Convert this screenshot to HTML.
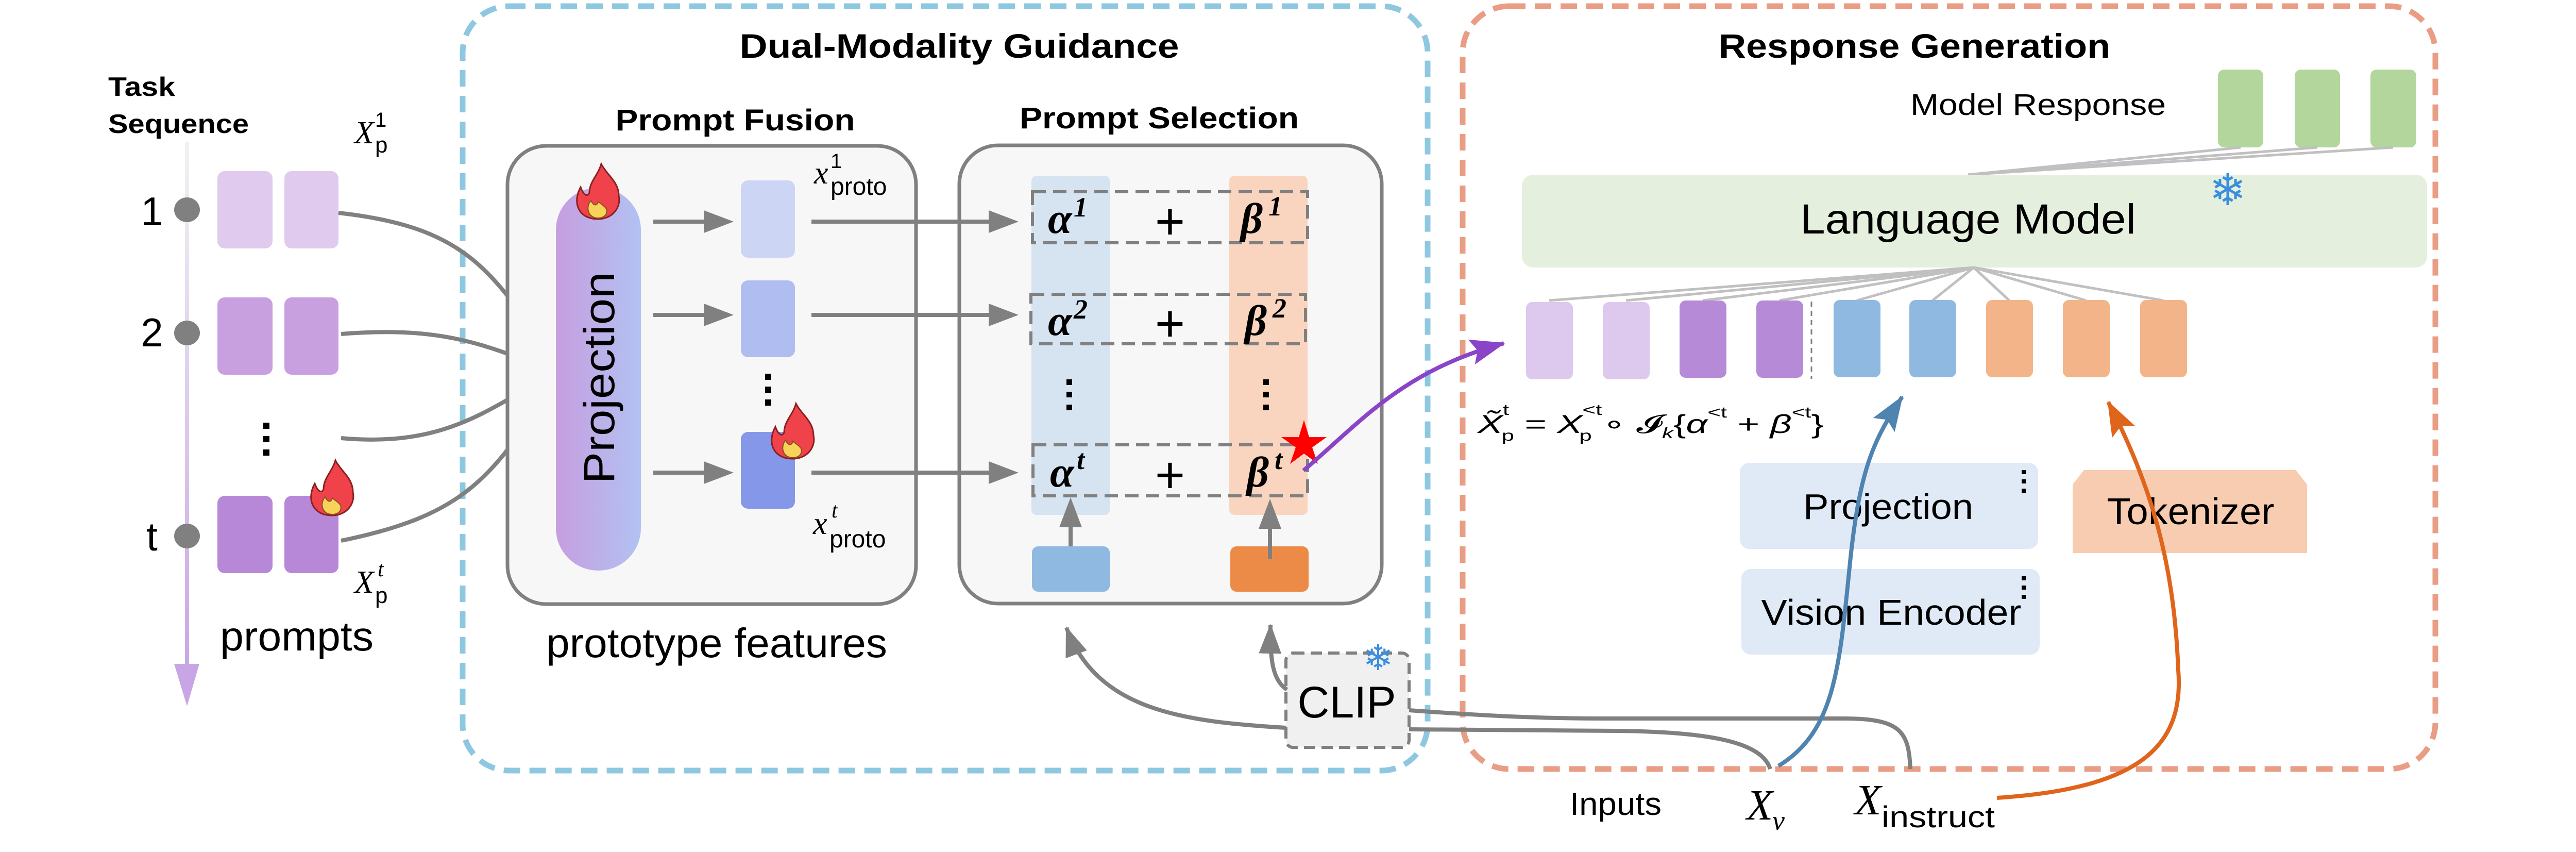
<!DOCTYPE html>
<html><head><meta charset="utf-8"><style>
html,body{margin:0;padding:0;background:#fff}
svg{display:block}
text{font-family:"Liberation Sans",sans-serif}
.s{font-family:"Liberation Serif",serif;font-style:italic}
.g{font-family:"Liberation Serif",serif;font-weight:bold;font-style:italic}
</style></head><body>
<svg width="5009" height="1653" viewBox="0 0 5009 1653" xmlns="http://www.w3.org/2000/svg">
<defs>
<marker id="ag" markerUnits="userSpaceOnUse" markerWidth="60" markerHeight="50" refX="55" refY="25" orient="auto"><path d="M0,3 L58,25 L0,47 Z" fill="#808080"/></marker>
<marker id="ap" markerUnits="userSpaceOnUse" markerWidth="70" markerHeight="60" refX="65" refY="30" orient="auto"><path d="M0,5 L68,30 L0,55 L12,30 Z" fill="#8a44c8"/></marker>
<marker id="ab" markerUnits="userSpaceOnUse" markerWidth="70" markerHeight="60" refX="65" refY="30" orient="auto"><path d="M0,5 L68,30 L0,55 L12,30 Z" fill="#4f83b0"/></marker>
<marker id="ao" markerUnits="userSpaceOnUse" markerWidth="70" markerHeight="60" refX="65" refY="30" orient="auto"><path d="M0,5 L68,30 L0,55 L12,30 Z" fill="#e0651c"/></marker>
<linearGradient id="tl" x1="0" y1="0" x2="0" y2="1"><stop offset="0" stop-color="#f2f2f2"/><stop offset="1" stop-color="#c8a6e6"/></linearGradient>
<linearGradient id="pj" x1="0" y1="0" x2="1" y2="0"><stop offset="0" stop-color="#c69ee0"/><stop offset="1" stop-color="#b2c2f2"/></linearGradient>
<g id="flame"><path d="M0,45 C-40,45 -50,12 -34,-17 C-28,0 -20,2 -17,-6 C-17,-28 0,-40 6,-62 C17,-40 40,-28 40,0 C45,22 28,45 0,45 Z" fill="#f0424a" stroke="#8a2020" stroke-width="3"/><path d="M0,43 C-20,43 -25,22 -14,9 C-9,20 -2,20 0,11 C7,18 20,22 16,34 C14,40 7,43 0,43 Z" fill="#f7d35a" stroke="#8a5020" stroke-width="2"/></g>
<path id="ah" d="M-58,-22 L0,0 L-58,22 Z" fill="#808080"/>
</defs>

<rect x="898" y="12" width="1873" height="1483" rx="90" fill="none" stroke="#8ec8e0" stroke-width="11" stroke-dasharray="32 18"/>
<rect x="2839" y="12" width="1888" height="1480" rx="90" fill="none" stroke="#e99d85" stroke-width="11" stroke-dasharray="32 18"/>

<text x="1862" y="112" font-size="66" font-weight="bold" text-anchor="middle" textLength="853" lengthAdjust="spacingAndGlyphs">Dual-Modality Guidance</text>
<text x="3716" y="112" font-size="66" font-weight="bold" text-anchor="middle" textLength="760" lengthAdjust="spacingAndGlyphs">Response Generation</text>

<!-- Task sequence -->
<text x="210" y="186" font-size="52" font-weight="bold" textLength="130" lengthAdjust="spacingAndGlyphs">Task</text>
<text x="210" y="258" font-size="52" font-weight="bold" textLength="273" lengthAdjust="spacingAndGlyphs">Sequence</text>
<rect x="359" y="276" width="8" height="1020" fill="url(#tl)"/>
<path d="M338,1288 L387,1288 L363,1370 Z" fill="#c8a6e6"/>
<ellipse cx="363" cy="407" rx="25" ry="24" fill="#808080"/>
<ellipse cx="363" cy="646" rx="25" ry="24" fill="#808080"/>
<ellipse cx="363" cy="1040" rx="25" ry="24" fill="#808080"/>
<text x="295" y="437" font-size="78" text-anchor="middle">1</text>
<text x="295" y="672" font-size="78" text-anchor="middle">2</text>
<text x="295" y="1068" font-size="78" text-anchor="middle">t</text>
<rect x="422" y="332" width="107" height="150" rx="14" fill="#e0cbee"/>
<rect x="552" y="332" width="105" height="150" rx="14" fill="#e0cbee"/>
<rect x="422" y="577" width="107" height="150" rx="14" fill="#c8a0e0"/>
<rect x="552" y="577" width="105" height="150" rx="14" fill="#c8a0e0"/>
<rect x="422" y="962" width="107" height="150" rx="14" fill="#b787d8"/>
<rect x="552" y="962" width="105" height="150" rx="14" fill="#b787d8"/>
<g fill="#000"><rect x="511" y="820" width="12" height="12"/><rect x="511" y="846" width="12" height="12"/><rect x="511" y="872" width="12" height="12"/></g>
<use href="#flame" x="645" y="955"/>
<text class="s" x="688" y="278" font-size="62">X</text><text x="728" y="246" font-size="40" font-family="Liberation Serif">1</text><text x="728" y="296" font-size="44" font-family="Liberation Serif">p</text>
<text class="s" x="688" y="1150" font-size="62">X</text><text class="s" x="733" y="1118" font-size="42">t</text><text x="728" y="1170" font-size="44" font-family="Liberation Serif">p</text>
<text x="576" y="1262" font-size="80" text-anchor="middle" textLength="298" lengthAdjust="spacingAndGlyphs">prompts</text>

<g fill="none" stroke="#808080" stroke-width="8">
<path d="M657,413 C900,440 960,520 1084,722"/>
<path d="M662,648 C880,630 960,680 1084,722"/>
<path d="M662,850 C880,870 960,780 1084,722"/>
<path d="M662,1049 C900,1000 960,930 1084,722"/>
</g>

<!-- Prompt Fusion -->
<text x="1427" y="253" font-size="58" font-weight="bold" text-anchor="middle" textLength="465" lengthAdjust="spacingAndGlyphs">Prompt Fusion</text>
<rect x="985" y="283" width="793" height="889" rx="75" fill="#f7f7f7" stroke="#808080" stroke-width="7"/>
<rect x="1079" y="364" width="165" height="743" rx="82" fill="url(#pj)"/>
<text transform="translate(1192,733) rotate(-90)" font-size="84" text-anchor="middle" font-family="DejaVu Sans,sans-serif" textLength="411" lengthAdjust="spacingAndGlyphs">Projection</text>
<use href="#flame" x="1161" y="380"/>
<rect x="1438" y="350" width="105" height="150" rx="14" fill="#cdd5f5"/>
<rect x="1438" y="544" width="105" height="149" rx="14" fill="#b0bdf0"/>
<rect x="1438" y="838" width="105" height="149" rx="14" fill="#8497e8"/>
<g fill="#000"><rect x="1485" y="725" width="12" height="12"/><rect x="1485" y="750" width="12" height="12"/><rect x="1485" y="775" width="12" height="12"/></g>
<use href="#flame" x="1539" y="845"/>
<text class="s" x="1580" y="356" font-size="62">x</text><text x="1612" y="326" font-size="40" font-family="Liberation Serif">1</text><text x="1612" y="378" font-size="48" font-family="Liberation Serif">proto</text>
<text class="s" x="1578" y="1036" font-size="62">x</text><text class="s" x="1614" y="1004" font-size="42">t</text><text x="1610" y="1062" font-size="48" font-family="Liberation Serif">proto</text>
<text x="1391" y="1275" font-size="80" text-anchor="middle" textLength="662" lengthAdjust="spacingAndGlyphs">prototype features</text>

<!-- Prompt Selection -->
<text x="2250" y="249" font-size="58" font-weight="bold" text-anchor="middle" textLength="542" lengthAdjust="spacingAndGlyphs">Prompt Selection</text>
<rect x="1862" y="282" width="820" height="889" rx="75" fill="#f7f7f7" stroke="#808080" stroke-width="7"/>
<rect x="2002" y="341" width="152" height="658" rx="10" fill="#d6e3f1"/>
<rect x="2386" y="341" width="152" height="658" rx="10" fill="#f9d5bf"/>
<g fill="none" stroke="#808080" stroke-width="6" stroke-dasharray="26 14">
<rect x="2004" y="372" width="534" height="99"/>
<rect x="2001" y="571" width="533" height="96"/>
<rect x="2005" y="863" width="533" height="99"/>
</g>

<!-- arrows (drawn after boxes) -->
<g fill="none" stroke="#808080" stroke-width="8">
<path d="M1268,430 L1380,430"/><path d="M1268,611 L1380,611"/><path d="M1268,917 L1380,917"/>
<path d="M1575,430 L1935,430"/><path d="M1575,611 L1935,611"/><path d="M1575,917 L1935,917"/>
</g>
<use href="#ah" x="1424" y="430"/><use href="#ah" x="1424" y="611"/><use href="#ah" x="1424" y="917"/>
<use href="#ah" x="1977" y="430"/><use href="#ah" x="1977" y="611"/><use href="#ah" x="1977" y="917"/>

<text class="g" x="2034" y="452" font-size="84">α</text><text class="g" x="2084" y="420" font-size="54">1</text>
<text class="g" x="2034" y="650" font-size="84">α</text><text class="g" x="2084" y="618" font-size="54">2</text>
<text class="g" x="2038" y="944" font-size="84">α</text><text class="g" x="2090" y="910" font-size="54">t</text>
<text class="g" x="2408" y="452" font-size="84">β</text><text class="g" x="2462" y="418" font-size="54">1</text>
<text class="g" x="2416" y="650" font-size="84">β</text><text class="g" x="2470" y="616" font-size="54">2</text>
<text class="g" x="2420" y="944" font-size="84">β</text><text class="g" x="2474" y="910" font-size="54">t</text>
<g font-size="100" text-anchor="middle" font-family="DejaVu Sans,sans-serif"><text x="2271" y="464">+</text><text x="2271" y="662">+</text><text x="2271" y="956">+</text></g>
<g fill="#000"><rect x="2070" y="736" width="11" height="11"/><rect x="2070" y="760" width="11" height="11"/><rect x="2070" y="785" width="11" height="11"/><rect x="2452" y="736" width="11" height="11"/><rect x="2452" y="760" width="11" height="11"/><rect x="2452" y="785" width="11" height="11"/></g>
<rect x="2003" y="1060" width="151" height="88" rx="12" fill="#8fb9e0"/>
<rect x="2388" y="1060" width="152" height="88" rx="12" fill="#ec8b48"/>
<path d="M2078,1060 L2078,1010" stroke="#808080" stroke-width="8"/>
<path d="M2465,1084 L2465,1010" stroke="#808080" stroke-width="8"/>
<use href="#ah" transform="translate(2078,965) rotate(-90)"/>
<use href="#ah" transform="translate(2465,968) rotate(-90)"/>
<polygon points="2531,815 2541,848 2575,848 2547,868 2558,900 2531,880 2504,900 2515,868 2487,848 2521,848" fill="#ff0000"/>
<path d="M2530,913 C2640,820 2720,720 2919,666" fill="none" stroke="#8a44c8" stroke-width="8" marker-end="url(#ap)"/>

<!-- CLIP -->
<rect x="2496" y="1267" width="239" height="183" rx="14" fill="#f0f0f0" stroke="#808080" stroke-width="6" stroke-dasharray="22 12"/>
<text x="2614" y="1392" font-size="86" text-anchor="middle">CLIP</text>
<text x="2675" y="1300" font-size="70" fill="#3a8ee0" text-anchor="middle">❄</text>
<path d="M2496,1412 C2300,1400 2130,1380 2070,1218" fill="none" stroke="#808080" stroke-width="8" marker-end="url(#ag)"/>
<path d="M2498,1338 C2470,1320 2465,1280 2466,1213" fill="none" stroke="#808080" stroke-width="8" marker-end="url(#ag)"/>
<g fill="none" stroke="#808080" stroke-width="8">
<path d="M2735,1378 C2900,1390 3000,1394 3108,1394 L3580,1394 C3690,1394 3705,1420 3708,1492"/>
<path d="M2735,1415 L3140,1418 C3320,1420 3420,1440 3436,1492"/>
</g>
<text x="3136" y="1581" font-size="62" text-anchor="middle" textLength="178" lengthAdjust="spacingAndGlyphs">Inputs</text>
<text class="s" x="3390" y="1590" font-size="84">X</text><text class="s" x="3440" y="1610" font-size="54">v</text>
<text class="s" x="3600" y="1580" font-size="84">X</text><text x="3652" y="1605" font-size="58" textLength="220" lengthAdjust="spacingAndGlyphs">instruct</text>

<!-- Response generation internals -->
<text x="3956" y="223" font-size="58" text-anchor="middle" textLength="496" lengthAdjust="spacingAndGlyphs">Model Response</text>
<rect x="4305" y="135" width="88" height="151" rx="12" fill="#b2d69b"/>
<rect x="4454" y="135" width="88" height="151" rx="12" fill="#b2d69b"/>
<rect x="4601" y="135" width="89" height="151" rx="12" fill="#b2d69b"/>
<g stroke="#c0c0c0" stroke-width="5">
<line x1="4349" y1="286" x2="3820" y2="339"/><line x1="4498" y1="286" x2="3820" y2="339"/><line x1="4645" y1="286" x2="3820" y2="339"/>
</g>
<rect x="2954" y="339" width="1757" height="180" rx="22" fill="#e5efdd"/>
<text x="4324" y="398" font-size="86" fill="#3a8ee0" text-anchor="middle">❄</text>
<text x="3820" y="453" font-size="82" text-anchor="middle" textLength="652" lengthAdjust="spacingAndGlyphs">Language Model</text>
<g stroke="#c0c0c0" stroke-width="5">
<line x1="3831" y1="519" x2="3007" y2="583"/><line x1="3831" y1="519" x2="3156" y2="583"/><line x1="3831" y1="519" x2="3305" y2="583"/><line x1="3831" y1="519" x2="3454" y2="583"/><line x1="3831" y1="519" x2="3604" y2="583"/><line x1="3831" y1="519" x2="3751" y2="583"/><line x1="3831" y1="519" x2="3900" y2="583"/><line x1="3831" y1="519" x2="4049" y2="583"/><line x1="3831" y1="519" x2="4199" y2="583"/>
</g>
<rect x="2962" y="586" width="91" height="150" rx="12" fill="#ddc8ee"/>
<rect x="3111" y="586" width="91" height="150" rx="12" fill="#ddc8ee"/>
<rect x="3260" y="583" width="91" height="150" rx="12" fill="#b78ad8"/>
<rect x="3409" y="583" width="91" height="150" rx="12" fill="#b78ad8"/>
<rect x="3559" y="582" width="91" height="150" rx="12" fill="#8fb9e0"/>
<rect x="3706" y="582" width="91" height="150" rx="12" fill="#8fb9e0"/>
<rect x="3855" y="582" width="91" height="150" rx="12" fill="#f3b489"/>
<rect x="4004" y="582" width="91" height="150" rx="12" fill="#f3b489"/>
<rect x="4154" y="582" width="91" height="150" rx="12" fill="#f3b489"/>
<line x1="3516" y1="585" x2="3516" y2="735" stroke="#808080" stroke-width="3" stroke-dasharray="10 8"/>
<text x="2868" y="840" font-size="50" font-family="Liberation Serif,serif" textLength="672" lengthAdjust="spacingAndGlyphs"><tspan font-style="italic">X̃</tspan><tspan font-size="30" dy="-35">t</tspan><tspan font-size="30" dx="-10" dy="50">p</tspan><tspan dy="-15"> = </tspan><tspan font-style="italic">X</tspan><tspan font-size="30" dy="-35">&lt;t</tspan><tspan font-size="30" dx="-30" dy="50">p</tspan><tspan dy="-15"> ∘ 𝓘</tspan><tspan font-size="30" font-style="italic" dy="10">k</tspan><tspan dy="-10">{</tspan><tspan font-style="italic">α</tspan><tspan font-size="30" dy="-30">&lt;t</tspan><tspan dy="30"> + </tspan><tspan font-style="italic">β</tspan><tspan font-size="30" dy="-30">&lt;t</tspan><tspan dy="30">}</tspan></text>

<rect x="3377" y="898" width="579" height="167" rx="18" fill="#dfeaf6"/>
<text x="3665" y="1007" font-size="70" text-anchor="middle" textLength="330" lengthAdjust="spacingAndGlyphs">Projection</text>
<g fill="#000"><rect x="3924" y="912" width="8" height="8"/><rect x="3924" y="930" width="8" height="8"/><rect x="3924" y="948" width="8" height="8"/></g>
<rect x="3380" y="1104" width="579" height="166" rx="18" fill="#dfeaf6"/>
<text x="3671" y="1212" font-size="70" text-anchor="middle" textLength="505" lengthAdjust="spacingAndGlyphs">Vision Encoder</text>
<g fill="#000"><rect x="3924" y="1118" width="8" height="8"/><rect x="3924" y="1136" width="8" height="8"/><rect x="3924" y="1154" width="8" height="8"/></g>
<path d="M4023,940 L4045,912 L4456,912 L4478,940 L4478,1073 L4023,1073 Z" fill="#f7ccb0"/>
<text x="4252" y="1017" font-size="72" text-anchor="middle" textLength="325" lengthAdjust="spacingAndGlyphs">Tokenizer</text>
<path d="M3452,1486 C3560,1420 3570,1300 3590,1100 C3610,900 3640,850 3692,770" fill="none" stroke="#4f83b0" stroke-width="8" marker-end="url(#ab)"/>
<path d="M3876,1548 C4150,1530 4240,1450 4228,1300 C4220,1100 4180,950 4092,780" fill="none" stroke="#e0651c" stroke-width="8" marker-end="url(#ao)"/>
</svg>
</body></html>
